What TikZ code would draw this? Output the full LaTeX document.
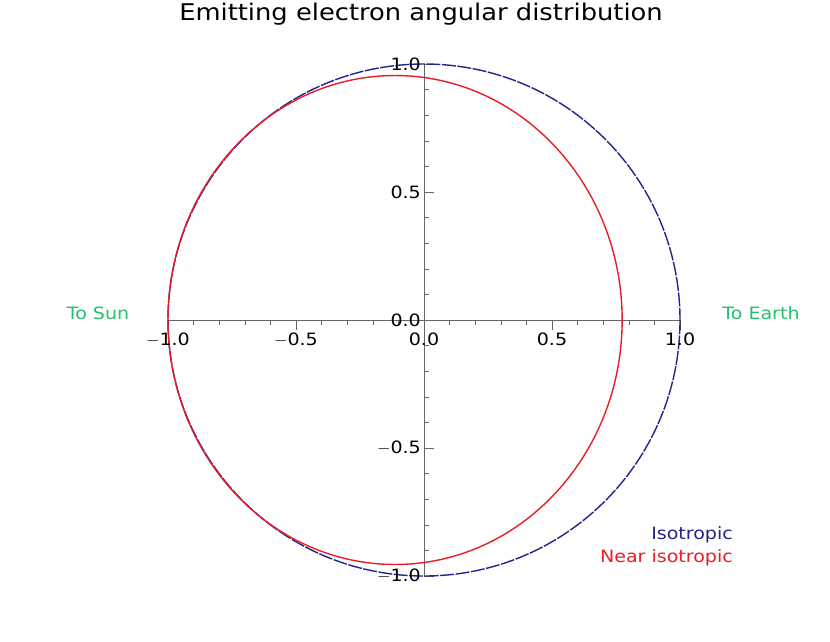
\documentclass[tikz,border=0pt]{standalone}
\usepackage{fontspec}
\setmainfont{DejaVu Sans}[FakeStretch=1.12]
\definecolor{grn}{RGB}{40,190,110}
\definecolor{navy}{RGB}{35,35,140}
\definecolor{rd}{RGB}{230,30,40}
\begin{document}
\begin{tikzpicture}[x=1pt,y=-1pt,
  lbl/.style={font=\fontsize{17}{17}\selectfont, inner sep=0pt},
  axisline/.style={black!60, line width=0.6pt},
  iso/.style={draw=navy, line width=1.4pt, dash pattern=on 14pt off 1.5pt},
  near/.style={draw=rd, line width=1.4pt}]
\useasboundingbox (0,0) rectangle (830,641);
\def\cx{424}\def\cy{320}\def\u{256}
\coordinate (L) at (168,320); \coordinate (R) at (680,320);
\coordinate (T) at (424,64); \coordinate (B) at (424,576);
\draw[axisline] (L) -- (R);
\draw[axisline] (T) -- (B);
\foreach \i in {-10,...,10}{
  \pgfmathsetmacro{\xx}{\cx+\i*25.6}
  \pgfmathsetmacro{\tl}{ifthenelse(mod(abs(\i),5)==0,10,5)}
  \draw[axisline] (\xx,\cy) -- ++(0,\tl);
  \draw[axisline] (\cx,\cy+\i*25.6) -- ++(\tl,0);
}
\draw[iso] (\cx,\cy) circle[radius=256];
\draw[near] (\cx-0.113*\u,\cy) ellipse[x radius=0.887*\u, y radius=0.955*\u];
\foreach \v/\t in {-1/$-$1.0,-0.5/$-$0.5,0/0.0,0.5/0.5,1/1.0}{
  \node[lbl, anchor=north] (xl\v) at (\cx+\v*\u,\cy+13) {\t};
}
\foreach \v/\t in {1/1.0,0.5/0.5,-0.5/$-$0.5,-1/$-$1.0}{
  \node[lbl, anchor=east] (yl\v) at (\cx-3,\cy-\v*\u) {\t};
}
\node[lbl, anchor=east] (y0) at (\cx-3,\cy) {0.0};
\node[font=\fontsize{23}{23}\selectfont, inner sep=0pt] (title) at (421,14) {Emitting electron angular distribution};
\node[lbl, text=grn] (sun) at (98,313) {To Sun};
\node[lbl, text=grn] (earth) at (761,313) {To Earth};
\node[lbl, text=navy, anchor=east] (liso) at (733,535) {Isotropic};
\node[lbl, text=rd, anchor=east] (lnear) at (733,558) {Near isotropic};
\end{tikzpicture}
\end{document}
